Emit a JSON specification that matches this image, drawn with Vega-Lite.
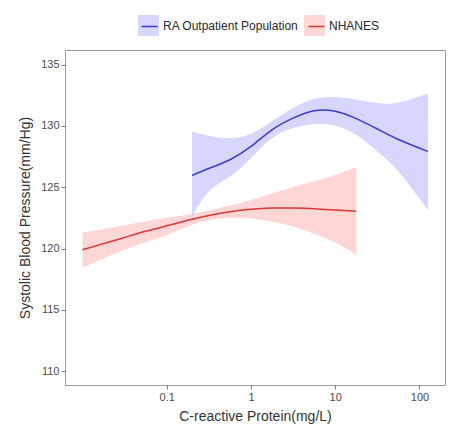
{
  "$schema": "https://vega.github.io/schema/vega-lite/v6.json",
  "autosize": {"type": "none"},
  "padding": {"left": 65, "top": 50, "right": 23, "bottom": 45},
  "width": 380,
  "height": 335,
  "background": "white",
  "config": {
    "font": "Liberation Sans",
    "view": {"stroke": "#9a9a9a", "strokeWidth": 1},
    "axis": {
      "domain": false, "grid": false, "tickColor": "#7f7f7f", "tickSize": 4,
      "labelColor": "#4d4d4d", "labelFontSize": 11, "labelPadding": 2,
      "titleFontSize": 14, "titleColor": "#333333", "titleFontWeight": "normal"
    },
    "legend": {"labelFontSize": 12, "labelColor": "#2a2a2a", "padding": 0}
  },
  "data": {"values": [
    {"group": "RA Outpatient Population", "crp": 0.2, "sbp": 125.96, "lo": 122.61, "hi": 129.55},
    {"group": "RA Outpatient Population", "crp": 0.316, "sbp": 126.53, "lo": 124.65, "hi": 129.2},
    {"group": "RA Outpatient Population", "crp": 0.562, "sbp": 127.24, "lo": 125.88, "hi": 129.0},
    {"group": "RA Outpatient Population", "crp": 1, "sbp": 128.33, "lo": 127.37, "hi": 129.36},
    {"group": "RA Outpatient Population", "crp": 1.778, "sbp": 129.69, "lo": 129.01, "hi": 130.37},
    {"group": "RA Outpatient Population", "crp": 3.162, "sbp": 130.64, "lo": 129.83, "hi": 131.46},
    {"group": "RA Outpatient Population", "crp": 5.623, "sbp": 131.25, "lo": 130.15, "hi": 132.2},
    {"group": "RA Outpatient Population", "crp": 10, "sbp": 131.2, "lo": 130.02, "hi": 132.36},
    {"group": "RA Outpatient Population", "crp": 17.78, "sbp": 130.6, "lo": 129.28, "hi": 132.14},
    {"group": "RA Outpatient Population", "crp": 31.62, "sbp": 129.75, "lo": 127.92, "hi": 131.87},
    {"group": "RA Outpatient Population", "crp": 56.23, "sbp": 128.9, "lo": 126.29, "hi": 131.92},
    {"group": "RA Outpatient Population", "crp": 125.9, "sbp": 127.92, "lo": 123.15, "hi": 132.63},
    {"group": "NHANES", "crp": 0.01, "sbp": 119.9, "lo": 118.4, "hi": 121.3},
    {"group": "NHANES", "crp": 0.01778, "sbp": 120.4, "lo": 119.2, "hi": 121.6},
    {"group": "NHANES", "crp": 0.03162, "sbp": 120.9, "lo": 119.9, "hi": 121.9},
    {"group": "NHANES", "crp": 0.05623, "sbp": 121.4, "lo": 120.5, "hi": 122.2},
    {"group": "NHANES", "crp": 0.1, "sbp": 121.85, "lo": 121.1, "hi": 122.5},
    {"group": "NHANES", "crp": 0.1778, "sbp": 122.3, "lo": 121.8, "hi": 122.75},
    {"group": "NHANES", "crp": 0.3162, "sbp": 122.7, "lo": 122.3, "hi": 123.1},
    {"group": "NHANES", "crp": 0.5623, "sbp": 123.0, "lo": 122.5, "hi": 123.5},
    {"group": "NHANES", "crp": 1, "sbp": 123.2, "lo": 122.45, "hi": 123.95},
    {"group": "NHANES", "crp": 1.778, "sbp": 123.3, "lo": 122.2, "hi": 124.5},
    {"group": "NHANES", "crp": 3.162, "sbp": 123.3, "lo": 121.8, "hi": 125.0},
    {"group": "NHANES", "crp": 5.623, "sbp": 123.25, "lo": 121.2, "hi": 125.5},
    {"group": "NHANES", "crp": 10, "sbp": 123.15, "lo": 120.5, "hi": 126.0},
    {"group": "NHANES", "crp": 17.78, "sbp": 123.05, "lo": 119.5, "hi": 126.65}
  ]},
  "encoding": {
    "x": {
      "field": "crp", "type": "quantitative",
      "scale": {"type": "log", "domain": [0.0062, 201], "nice": false},
      "axis": {"values": [0.1, 1, 10, 100], "format": "~g", "title": "C-reactive Protein(mg/L)", "titlePadding": 7}
    }
  },
  "layer": [
    {
      "mark": {"type": "area", "interpolate": "natural", "opacity": 0.2},
      "encoding": {
        "y": {"field": "lo", "type": "quantitative",
              "scale": {"domain": [108.86, 136.2], "nice": false, "zero": false},
              "axis": {"values": [110, 115, 120, 125, 130, 135], "title": "Systolic Blood Pressure(mm/Hg)", "titlePadding": 8}},
        "y2": {"field": "hi"},
        "fill": {
          "field": "group", "type": "nominal",
          "scale": {"domain": ["RA Outpatient Population", "NHANES"], "range": ["#3333ff", "#ff3333"]},
          "legend": {"title": null, "orient": "none", "direction": "horizontal", "legendX": 73, "legendY": -35,
                     "symbolType": "square", "symbolSize": 441, "symbolOpacity": 0.2, "symbolStrokeWidth": 0,
                     "labelOffset": 4, "columnPadding": 5}
        }
      }
    },
    {
      "mark": {"type": "line", "interpolate": "natural", "strokeWidth": 1.5},
      "encoding": {
        "y": {"field": "sbp", "type": "quantitative"},
        "stroke": {
          "field": "group", "type": "nominal",
          "scale": {"domain": ["NHANES", "RA Outpatient Population"], "range": ["#dd3535", "#3b3bcf"]},
          "legend": {"title": null, "orient": "none", "direction": "horizontal", "legendX": 75.5, "legendY": -32.5,
                     "values": ["RA Outpatient Population", "NHANES"], "labelExpr": "''",
                     "symbolType": "stroke", "symbolSize": 256, "symbolStrokeWidth": 1.5,
                     "labelOffset": 0, "columnPadding": 145}
        }
      }
    }
  ]
}
